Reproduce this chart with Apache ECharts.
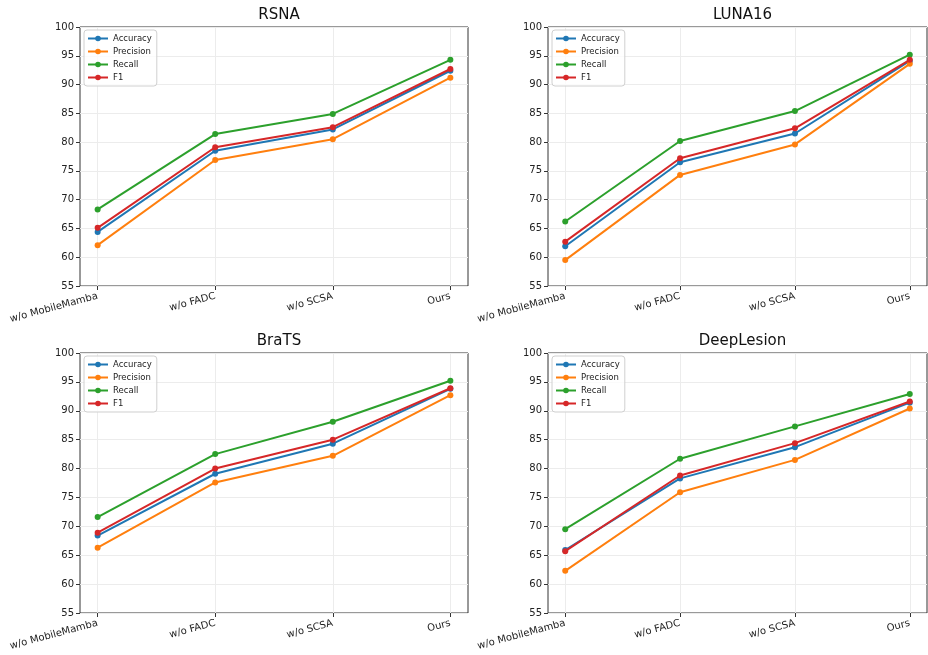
<!DOCTYPE html>
<html><head><meta charset="utf-8">
<script src="https://cdn.jsdelivr.net/npm/echarts@6/dist/echarts.min.js"></script>
<style>html,body{margin:0;padding:0;background:#fff}#c{width:928px;height:655px}</style>
</head><body><div id="c"></div>
<script>
const categories = ['w/o MobileMamba', 'w/o FADC', 'w/o SCSA', 'Ours'];
const seriesNames = ['Accuracy', 'Precision', 'Recall', 'F1'];
const colors = ['#1f77b4', '#ff7f0e', '#2ca02c', '#d62728'];
const yTicks = [55, 60, 65, 70, 75, 80, 85, 90, 95, 100];
const titles = ['RSNA', 'LUNA16', 'BraTS', 'DeepLesion'];

const rsnaAccuracy  = [64.4, 78.5, 82.2, 92.4];
const rsnaPrecision = [62.1, 76.9, 80.5, 91.2];
const rsnaRecall    = [68.3, 81.4, 84.9, 94.3];
const rsnaF1        = [65.1, 79.1, 82.6, 92.7];

const lunaAccuracy  = [61.9, 76.5, 81.5, 94.1];
const lunaPrecision = [59.5, 74.3, 79.6, 93.6];
const lunaRecall    = [66.2, 80.2, 85.4, 95.2];
const lunaF1        = [62.7, 77.2, 82.4, 94.3];

const bratsAccuracy  = [68.4, 79.1, 84.3, 93.8];
const bratsPrecision = [66.3, 77.6, 82.2, 92.7];
const bratsRecall    = [71.6, 82.5, 88.1, 95.2];
const bratsF1        = [68.9, 80.0, 85.0, 93.9];

const deepAccuracy  = [65.9, 78.3, 83.7, 91.4];
const deepPrecision = [62.3, 75.9, 81.5, 90.4];
const deepRecall    = [69.5, 81.7, 87.3, 92.9];
const deepF1        = [65.7, 78.8, 84.4, 91.6];

const panelData = [
  [rsnaAccuracy, rsnaPrecision, rsnaRecall, rsnaF1],
  [lunaAccuracy, lunaPrecision, lunaRecall, lunaF1],
  [bratsAccuracy, bratsPrecision, bratsRecall, bratsF1],
  [deepAccuracy, deepPrecision, deepRecall, deepF1]
];

// layout (pixels)
const frames = [
  {left: 80, right: 468, top: 27, bottom: 286},
  {left: 548, right: 927, top: 27, bottom: 286},
  {left: 80, right: 468, top: 353, bottom: 613},
  {left: 548, right: 927, top: 353, bottom: 613}
];
const FONT = 'DejaVu Sans';

const grid = [], xAxis = [], yAxis = [], series = [], title = [], legend = [];
frames.forEach((f, p) => {
  const w = f.right - f.left;
  const pad = w * 0.15 / 3.3;
  grid.push({left: f.left, top: f.top, width: w, height: f.bottom - f.top,
    show: true, borderColor: '#333', borderWidth: 1, backgroundColor: 'transparent', z: 0});
  grid.push({left: f.left + pad, top: f.top, width: w - 2 * pad, height: f.bottom - f.top, show: false});
  const gF = 2 * p, gD = 2 * p + 1;
  xAxis.push({gridIndex: gF, type: 'value', show: false, min: 0, max: 1});
  xAxis.push({gridIndex: gD, type: 'category', data: categories, boundaryGap: false,
    axisLine: {show: false},
    axisTick: {show: true, length: 4, inside: false, lineStyle: {color: '#333'}},
    axisLabel: {rotate: 15, fontSize: 10, color: '#222', fontFamily: FONT, margin: 10, interval: 0},
    splitLine: {show: true, lineStyle: {color: '#ececec', width: 1}}});
  yAxis.push({gridIndex: gF, type: 'value', min: 55, max: 100, interval: 5,
    axisLine: {show: false},
    axisTick: {show: true, length: 4, lineStyle: {color: '#333'}},
    axisLabel: {fontSize: 10, color: '#222', fontFamily: FONT, margin: 6,
      formatter: v => yTicks.includes(v) ? String(v) : ''},
    splitLine: {show: true, lineStyle: {color: '#ececec', width: 1}}});
  yAxis.push({gridIndex: gD, type: 'value', min: 55, max: 100, show: false});
  title.push({text: titles[p], left: (f.left + f.right) / 2, top: f.top - 24, textAlign: 'center',
    textStyle: {fontSize: 15, fontWeight: 'normal', color: '#111', fontFamily: FONT}});
  legend.push({left: f.left + 4, top: f.top + 3, orient: 'vertical', data: seriesNames,
    borderColor: '#d0d0d0', borderWidth: 1, borderRadius: 3, padding: [4, 5, 4, 3],
    backgroundColor: 'rgba(255,255,255,0.8)',
    itemGap: 4, itemWidth: 20, itemHeight: 7, selectedMode: false,
    textStyle: {fontSize: 8.5, color: '#222', fontFamily: FONT}});
  seriesNames.forEach((name, i) => {
    series.push({name, type: 'line', xAxisIndex: gD, yAxisIndex: gD,
      data: panelData[p][i], symbol: 'circle', symbolSize: 6,
      color: colors[i],
      lineStyle: {width: 2, color: colors[i]}, itemStyle: {color: colors[i]},
      animation: false, z: 3 + i});
  });
});

const chart = echarts.init(document.getElementById('c'), null, {renderer: 'canvas'});
chart.setOption({backgroundColor: '#fff', animation: false, title, legend, grid, xAxis, yAxis, series});
</script></body></html>
